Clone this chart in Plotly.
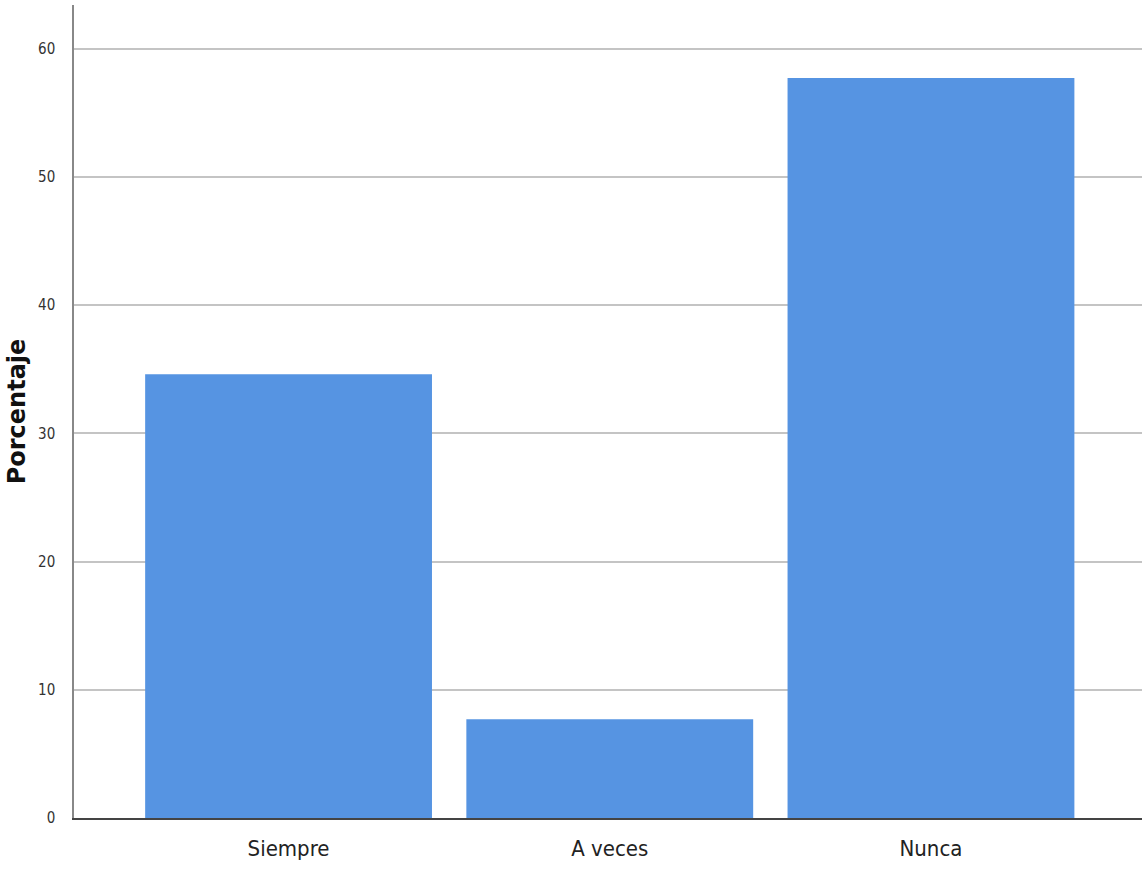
import plotly.graph_objects as go

categories = ["Siempre", "A veces", "Nunca"]
percentages = [34.6, 7.7, 57.7]
y_ticks = [0, 10, 20, 30, 40, 50, 60]

fig = go.Figure(go.Bar(
    x=categories, y=percentages,
    marker=dict(color="#5694e2", line=dict(width=0)),
    hoverinfo="x+y",
))

fig.update_layout(
    width=1142, height=871,
    margin=dict(l=74, r=0, t=5, b=53),
    paper_bgcolor="white", plot_bgcolor="white",
    bargap=0.107,
    showlegend=False,
    xaxis=dict(
        range=[-0.668, 2.657],
        showgrid=False,
        showline=True, linecolor="#444444", linewidth=1.5,
        ticks="", tickfont=dict(family="DejaVu Sans Condensed, Liberation Sans Narrow, sans-serif", size=22, color="#222222"),
        ticklabelstandoff=10,
    ),
    yaxis=dict(
        range=[0, 63.4],
        tickvals=y_ticks,
        showgrid=True, gridcolor="#c4c4c4", gridwidth=1.5,
        showline=True, linecolor="#888888", linewidth=1.5,
        zeroline=False,
        ticks="", tickfont=dict(family="DejaVu Sans Condensed, Liberation Sans Narrow, sans-serif", size=15, color="#333333"),
        ticklabelstandoff=14,
        title=dict(text="<b>Porcentaje</b>", font=dict(family="DejaVu Sans, sans-serif", size=24, color="#111111"), standoff=6),
    ),
)

fig.write_html("out.html", config={"displayModeBar": False})
with open("out.html", "r", encoding="utf-8") as f:
    html = f.read()
html = html.replace("<body>", '<body style="margin:0">', 1)
with open("out.html", "w", encoding="utf-8") as f:
    f.write(html)
